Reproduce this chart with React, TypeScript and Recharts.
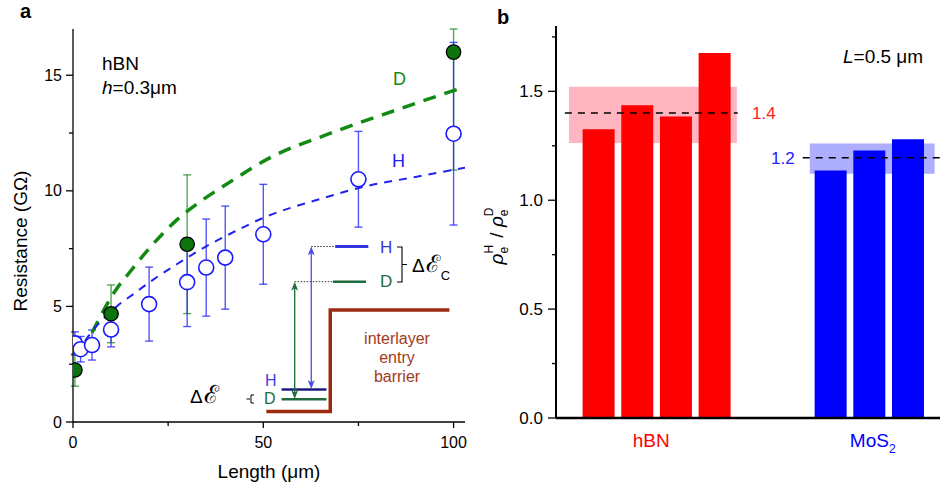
import React from 'react';
import {
  ComposedChart, Scatter, Line, Bar, Cell, XAxis, YAxis, ErrorBar,
  ReferenceLine, ReferenceArea,
} from 'recharts';

const FONT = 'Liberation Sans, Arial, Helvetica, sans-serif';

// ---------- Panel a : resistance vs length ----------
const hLength = [0.5, 2, 5, 10, 20, 30, 35, 40, 50, 75, 100];
const hResistance = [3.4, 3.15, 3.33, 4.0, 5.1, 6.05, 6.68, 7.11, 8.12, 10.5, 12.47];
const hError = [0.5, 0.55, 0.65, 0.75, 1.6, 1.92, 2.1, 2.23, 2.16, 2.07, 3.95];

const dLength = [0.5, 10, 30, 100];
const dResistance = [2.25, 4.68, 7.69, 16.0];
const dError = [0.7, 1.25, 3.0, 5.1];

const dFitLength = [2.5, 6.5, 11, 15, 20.5, 27, 34, 40, 52, 67, 85, 103];
const dFitResistance = [3.0, 4.35, 5.65, 6.5, 7.6, 8.7, 9.6, 10.25, 11.45, 12.45, 13.5, 14.5];

const hFitLength = [1, 4, 7, 11.5, 16, 21, 28, 35, 42, 51, 64, 77, 90, 103];
const hFitResistance = [2.95, 3.7, 4.3, 5.0, 5.55, 6.15, 6.9, 7.6, 8.2, 8.9, 9.6, 10.2, 10.6, 11.0];

// schematic inset (energy diagram) in axis units
const barrierX = [50.8, 67.6, 67.6, 98.9];
const barrierY = [0.45, 0.45, 4.85, 4.85];

const aXTicks = [0, 25, 50, 75, 100];
const aYTicks = [0, 2.5, 5, 7.5, 10, 12.5, 15];
const aTopTicks = [25, 50, 75];
const aYMax = 17;

// ---------- Panel b : ratio bars ----------
const hbnPositions = [1, 2, 3, 4];
const hbnRatios = [1.326, 1.436, 1.385, 1.676];
const mos2Positions = [7, 8, 9];
const mos2Ratios = [1.136, 1.228, 1.28];
const categoryLabels = ['hBN', 'MoS2'];
const categoryTickPos = [2.35, 8.08];
const hbnMean = 1.4;
const mos2Mean = 1.195;
const hbnBand = [1.263, 1.521];
const mos2Band = [1.122, 1.26];
const bYTicks = [0, 0.25, 0.5, 0.75, 1, 1.25, 1.5, 1.75];
const bTopTicks = [0.5, 1, 1.5, 2, 2.5, 3, 3.5, 4, 4.5, 5, 5.5, 6, 6.5, 7, 7.5, 8, 8.5, 9, 9.5];

// error bars are shown only inside the plot frame (upper part clipped at the axis top)
const zipErr = (xs: number[], ys: number[], es: number[]) =>
  xs.map((x, i) => ({ x, y: ys[i], err: [es[i], Math.min(es[i], aYMax - ys[i])] }));
const zip = (xs: number[], ys: number[]) => xs.map((x, i) => ({ x, y: ys[i] }));

const hData = zipErr(hLength, hResistance, hError);
const dData = zipErr(dLength, dResistance, dError);
const dFit = zip(dFitLength, dFitResistance);
const hFit = zip(hFitLength, hFitResistance);
const barrier = zip(barrierX, barrierY);

const barData = [
  ...hbnPositions.map((x, i) => ({ x, ratio: hbnRatios[i], color: '#ff0000' })),
  ...mos2Positions.map((x, i) => ({ x, ratio: mos2Ratios[i], color: '#0000ff' })),
];

// ---------- tick renderers ----------
const leftTickA = (p: any) => {
  const v = p.payload.value;
  const major = v % 5 === 0;
  return (
    <g>
      <line x1={p.x} x2={p.x - (major ? 7 : 4)} y1={p.y} y2={p.y} stroke="#000" strokeWidth={1.3} />
      {major && (
        <text x={p.x - 11} y={p.y + 5.5} textAnchor="end" fontSize={16} fontFamily={FONT} fill="#000">
          {v}
        </text>
      )}
    </g>
  );
};
const bottomTickA = (p: any) => {
  const v = p.payload.value;
  const major = v % 50 === 0;
  return (
    <g>
      <line x1={p.x} x2={p.x} y1={p.y} y2={p.y + (major ? 6 : 4)} stroke="#000" strokeWidth={1.3} />
      {major && (
        <text x={p.x} y={p.y + 26} textAnchor="middle" fontSize={16} fontFamily={FONT} fill="#000">
          {v}
        </text>
      )}
    </g>
  );
};
const topTickIn = (p: any) => (
  <line x1={p.x} x2={p.x} y1={p.y} y2={p.y + 3} stroke="#000" strokeWidth={1} />
);
const rightTickIn = (p: any) => (
  <line x1={p.x} x2={p.x - 3} y1={p.y} y2={p.y} stroke="#000" strokeWidth={1} />
);
const leftTickB = (p: any) => {
  const v = p.payload.value;
  const major = Math.abs(v * 2 - Math.round(v * 2)) < 1e-6;
  return (
    <g>
      <line x1={p.x} x2={p.x - (major ? 8 : 4)} y1={p.y} y2={p.y} stroke="#000" strokeWidth={1.3} />
      {major && (
        <text x={p.x - 13} y={p.y + 6} textAnchor="end" fontSize={17} fontFamily={FONT} fill="#000">
          {v.toFixed(1)}
        </text>
      )}
    </g>
  );
};
const bottomTickB = (p: any) => {
  const i = p.index;
  const label = categoryLabels[i] || '';
  const color = i === 0 ? '#ff0000' : '#0000ff';
  const m = label.match(/^(.*?)(\d+)$/);
  return (
    <text x={p.x} y={p.y + 29} textAnchor="middle" fontSize={19} fontFamily={FONT} fill={color}>
      {m ? m[1] : label}
      {m && (
        <tspan fontSize={12} dy={6}>
          {m[2]}
        </tspan>
      )}
    </text>
  );
};

const arrowShape = (color: string) => (p: any) => {
  const x = p.x1;
  const top = Math.min(p.y1, p.y2);
  const bot = Math.max(p.y1, p.y2);
  return (
    <g>
      <line x1={x} x2={x} y1={top + 3} y2={bot - 3} stroke={color} strokeWidth={1.3} />
      <path d={`M${x},${top} L${x - 3.5},${top + 9} L${x},${top + 6.5} L${x + 3.5},${top + 9} Z`} fill={color} />
      <path d={`M${x},${bot} L${x - 3.5},${bot - 9} L${x},${bot - 6.5} L${x + 3.5},${bot - 9} Z`} fill={color} />
    </g>
  );
};

const GREEN_DOT = '#0d730d';
const BLUE = '#1a1aff';

export default function App() {
  return (
    <div style={{ position: 'absolute', left: 0, top: 0, width: 940, height: 489, overflow: 'hidden', background: '#fff' }}>
      {/* Panel a */}
      <div style={{ position: 'absolute', left: 0, top: 0 }}>
        <ComposedChart width={480} height={489} margin={{ top: 29, right: 15, bottom: 27, left: 13 }}>
          <XAxis dataKey="x" type="number" domain={[0, 103]} allowDataOverflow ticks={aXTicks} interval={0}
            tickSize={0} tickMargin={0} tickLine={false} tick={bottomTickA} height={40}
            axisLine={{ stroke: '#000', strokeWidth: 1.3 }} />
          <XAxis xAxisId="top" orientation="top" type="number" domain={[0, 103]} allowDataOverflow ticks={aTopTicks}
            interval={0} tickSize={0} tickMargin={0} tickLine={false} tick={topTickIn} height={0}
            axisLine={{ stroke: '#000', strokeWidth: 1.3 }} />
          <YAxis dataKey="y" type="number" domain={[0, aYMax]} allowDataOverflow ticks={aYTicks} interval={0}
            tickSize={0} tickMargin={0} tickLine={false} tick={leftTickA} width={60}
            axisLine={{ stroke: '#000', strokeWidth: 1.3 }} />
          <YAxis yAxisId="right" orientation="right" type="number" domain={[0, aYMax]} allowDataOverflow ticks={aYTicks.slice(1)}
            interval={0} tickSize={0} tickMargin={0} tickLine={false} tick={rightTickIn} width={0}
            axisLine={{ stroke: '#000', strokeWidth: 1.3 }} />

          <Scatter data={dData} dataKey="y" isAnimationActive={false} shape={() => <g />}>
            <ErrorBar dataKey="err" direction="y" width={4} stroke="#1f8a1f" strokeOpacity={0.75} strokeWidth={1.4} />
          </Scatter>
          <Scatter data={hData} dataKey="y" isAnimationActive={false}
            shape={(p: any) => <circle cx={p.cx} cy={p.cy} r={7.5} fill="#fff" stroke={BLUE} strokeWidth={1.6} />}>
            <ErrorBar dataKey="err" direction="y" width={4} stroke="#2a2aff" strokeOpacity={0.8} strokeWidth={1.4} />
          </Scatter>

          <Line data={dFit} dataKey="y" type="monotone" stroke="#128a12" strokeWidth={3.5} strokeDasharray="13 9"
            dot={false} activeDot={false} isAnimationActive={false} />
          <Line data={hFit} dataKey="y" type="monotone" stroke="#2222ee" strokeWidth={2} strokeDasharray="8 7"
            dot={false} activeDot={false} isAnimationActive={false} />

          {/* energy schematic */}
          <Line data={barrier} dataKey="y" type="linear" stroke="#9c2b12" strokeWidth={3.5}
            dot={false} activeDot={false} isAnimationActive={false} />
          <ReferenceLine segment={[{ x: 54.8, y: 1.41 }, { x: 66.6, y: 1.41 }]} stroke="#1b1b80" strokeWidth={2.5} />
          <ReferenceLine segment={[{ x: 54.8, y: 0.98 }, { x: 66.6, y: 0.98 }]} stroke="#1e6b3c" strokeWidth={2.5} />
          <ReferenceLine segment={[{ x: 68.9, y: 7.59 }, { x: 77.6, y: 7.59 }]} stroke="#3535e0" strokeWidth={3} />
          <ReferenceLine segment={[{ x: 68.3, y: 6.07 }, { x: 77.0, y: 6.07 }]} stroke="#1e6b3c" strokeWidth={2.5} />
          <ReferenceLine segment={[{ x: 62.6, y: 7.59 }, { x: 68.9, y: 7.59 }]} stroke="#333" strokeWidth={1} strokeDasharray="1.5 1.5" />
          <ReferenceLine segment={[{ x: 58.25, y: 6.07 }, { x: 68.3, y: 6.07 }]} stroke="#333" strokeWidth={1} strokeDasharray="1.5 1.5" />
          <ReferenceLine segment={[{ x: 58.25, y: 1.0 }, { x: 58.25, y: 6.07 }]} shape={arrowShape('#1e6b3c')} />
          <ReferenceLine segment={[{ x: 62.6, y: 1.43 }, { x: 62.6, y: 7.59 }]} shape={arrowShape('#4a4ae8')} />

          <Scatter data={dData} dataKey="y" isAnimationActive={false}
            shape={(p: any) => <circle cx={p.cx} cy={p.cy} r={7.2} fill={GREEN_DOT} stroke="#000" strokeWidth={1.3} />} />
        </ComposedChart>
      </div>

      {/* Panel b */}
      <div style={{ position: 'absolute', left: 480, top: 0 }}>
        <ComposedChart width={480} height={489} data={barData} margin={{ top: 26, right: 13, bottom: 31, left: 16 }}>
          <XAxis dataKey="x" type="number" domain={[-0.11, 10]} allowDataOverflow ticks={categoryTickPos} interval={0}
            tickSize={0} tickMargin={0} tickLine={false} tick={bottomTickB} height={40}
            axisLine={{ stroke: '#000', strokeWidth: 2.6 }} />
          <XAxis xAxisId="top" orientation="top" type="number" domain={[-0.11, 10]} allowDataOverflow ticks={bTopTicks}
            interval={0} tickSize={0} tickMargin={0} tickLine={false} tick={topTickIn} height={0}
            axisLine={{ stroke: '#000', strokeWidth: 2 }} />
          <YAxis type="number" domain={[0, 1.8]} allowDataOverflow ticks={bYTicks} interval={0}
            tickSize={0} tickMargin={0} tickLine={false} tick={leftTickB} width={60}
            axisLine={{ stroke: '#000', strokeWidth: 2 }} />

          <ReferenceArea x1={0.225} x2={4.566} y1={hbnBand[0]} y2={hbnBand[1]} fill="#ffb6c1" fillOpacity={1} stroke="none" />
          <ReferenceArea x1={6.452} x2={9.68} y1={mos2Band[0]} y2={mos2Band[1]} fill="#aeaeff" fillOpacity={1} stroke="none" />

          <Bar dataKey="ratio" barSize={32} isAnimationActive={false}>
            {barData.map((d, i) => (
              <Cell key={i} fill={d.color} />
            ))}
          </Bar>

          <ReferenceLine segment={[{ x: 0.12, y: hbnMean }, { x: 4.59, y: hbnMean }]} stroke="#000" strokeWidth={1.5} strokeDasharray="7 6" />
          <ReferenceLine segment={[{ x: 6.27, y: mos2Mean }, { x: 10, y: mos2Mean }]} stroke="#000" strokeWidth={1.5} strokeDasharray="7 6" />
        </ComposedChart>
      </div>

      {/* annotations */}
      <svg width={940} height={489} style={{ position: 'absolute', left: 0, top: 0, pointerEvents: 'none' }} fontFamily={FONT}>
        <text x={20} y={18} fontSize={20} fontWeight="bold">a</text>
        <text x={497} y={24} fontSize={20} fontWeight="bold">b</text>

        <text x={102} y={70} fontSize={19}>hBN</text>
        <text x={102} y={94} fontSize={19}><tspan fontStyle="italic">h</tspan>=0.3μm</text>
        <text x={393} y={85} fontSize={18} fill="#128a12">D</text>
        <text x={392} y={167} fontSize={18} fill="#2222ee">H</text>

        <text x={380} y={253} fontSize={17} fill="#3535e0">H</text>
        <text x={380} y={287} fontSize={17} fill="#1e6b3c">D</text>
        <path d="M397,247 L402,247 L402,282 L397,282 M402,264.5 L407,264.5" stroke="#000" strokeWidth={1.1} fill="none" />
        <text x={412} y={272} fontSize={19}>Δ<tspan fontSize={24} dx={1}>ℰ</tspan><tspan fontSize={13} dy={8} dx={1}>C</tspan></text>

        <text x={265} y={386} fontSize={16} fill="#4040e0">H</text>
        <text x={264} y={404} fontSize={16} fill="#1e6b3c">D</text>
        <path d="M246.5,399 L250,399 M254,395 L251,395 L251,403 L254,403" stroke="#000" strokeWidth={1} fill="none" />
        <text x={190} y={403} fontSize={19}>Δ<tspan fontSize={25} dx={1}>ℰ</tspan></text>

        <text x={397} y={344} fontSize={16} fill="#a33a20" textAnchor="middle">interlayer</text>
        <text x={397} y={363} fontSize={16} fill="#a33a20" textAnchor="middle">entry</text>
        <text x={397} y={382} fontSize={16} fill="#a33a20" textAnchor="middle">barrier</text>

        <text x={27} y={241} fontSize={19} textAnchor="middle" transform="rotate(-90 27 241)">Resistance (GΩ)</text>
        <text x={269} y={478} fontSize={19} textAnchor="middle">Length (μm)</text>

        <text x={843} y={63} fontSize={19}><tspan fontStyle="italic">L</tspan>=0.5 μm</text>
        <text x={752} y={119} fontSize={17} fill="#ff2020">1.4</text>
        <text x={771} y={164} fontSize={17} fill="#2020ff">1.2</text>

        <text x={503} y={236} fontSize={19} textAnchor="middle" transform="rotate(-90 503 236)">
          <tspan fontStyle="italic">ρ</tspan>
          <tspan fontSize={12} dy={5}>e</tspan>
          <tspan fontSize={12} dx={-6.7} dy={-15}>H</tspan>
          <tspan dy={10} dx={2}> / </tspan>
          <tspan fontStyle="italic">ρ</tspan>
          <tspan fontSize={12} dy={5}>e</tspan>
          <tspan fontSize={12} dx={-6.7} dy={-15}>D</tspan>
        </text>
      </svg>
    </div>
  );
}
